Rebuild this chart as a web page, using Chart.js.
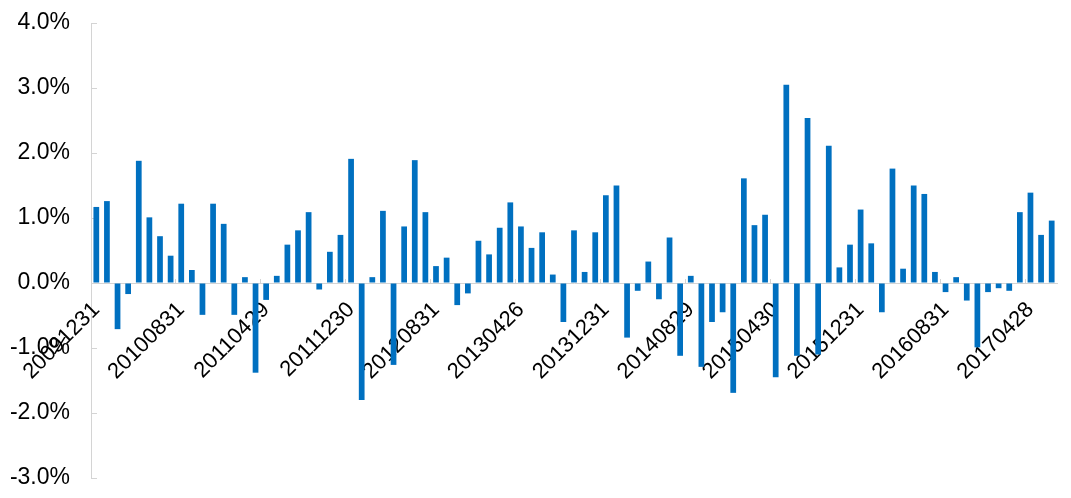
<!DOCTYPE html>
<html>
<head>
<meta charset="utf-8">
<title>Monthly excess return</title>
<script src="https://cdn.jsdelivr.net/npm/chart.js@4/dist/chart.umd.min.js"></script>
<style>
  html, body { margin: 0; padding: 0; background: #fff; }
  #wrap { width: 1071px; height: 498px; }
</style>
</head>
<body>
<div id="wrap"><canvas id="chart" width="1071" height="498"></canvas></div>
<script>
// month-end dates, 2009-12 .. 2017-06
const dates = [
  "20091231",
  "20100129", "20100226", "20100331", "20100430", "20100531", "20100630", "20100730", "20100831", "20100930", "20101029", "20101130", "20101231",
  "20110131", "20110228", "20110331", "20110429", "20110531", "20110630", "20110729", "20110831", "20110930", "20111031", "20111130", "20111230",
  "20120131", "20120229", "20120330", "20120427", "20120531", "20120629", "20120731", "20120831", "20120928", "20121031", "20121130", "20121231",
  "20130131", "20130228", "20130329", "20130426", "20130531", "20130628", "20130731", "20130830", "20130930", "20131031", "20131129", "20131231",
  "20140130", "20140228", "20140331", "20140430", "20140530", "20140630", "20140731", "20140829", "20140930", "20141031", "20141128", "20141231",
  "20150130", "20150227", "20150331", "20150430", "20150529", "20150630", "20150731", "20150831", "20150930", "20151030", "20151130", "20151231",
  "20160129", "20160229", "20160331", "20160429", "20160531", "20160630", "20160729", "20160831", "20160930", "20161031", "20161130", "20161230",
  "20170126", "20170228", "20170331", "20170428", "20170531", "20170630"
];

// monthly return, in percent
const returns = [
  1.17,
  1.26, -0.71, -0.17, 1.88, 1.01, 0.72, 0.42, 1.22, 0.20, -0.49, 1.22, 0.91,
  -0.49, 0.09, -1.38, -0.26, 0.11, 0.59, 0.81, 1.09, -0.10, 0.48, 0.74, 1.91,
  -1.80, 0.09, 1.11, -1.26, 0.87, 1.89, 1.09, 0.26, 0.39, -0.34, -0.16, 0.65,
  0.44, 0.85, 1.24, 0.87, 0.54, 0.78, 0.13, -0.60, 0.81, 0.17, 0.78, 1.35,
  1.50, -0.84, -0.12, 0.33, -0.25, 0.70, -1.12, 0.11, -1.29, -0.60, -0.45, -1.69,
  1.61, 0.89, 1.05, -1.45, 3.05, -1.12, 2.54, -1.10, 2.11, 0.24, 0.59, 1.13,
  0.61, -0.45, 1.76, 0.22, 1.50, 1.37, 0.17, -0.14, 0.09, -0.27, -0.99, -0.14,
  -0.08, -0.12, 1.09, 1.39, 0.74, 0.96
];

const yMin = -3;
const yMax = 4;
const yStep = 1;
const labelEvery = 8;

const axisGrey = "#d4d4d4";
const family = "'Liberation Sans', Arial, sans-serif";

// keep the plot area fixed, labels may spill into the margins
function noPadding(scale) {
  scale.paddingTop = 0;
  scale.paddingBottom = 0;
  scale.paddingLeft = 0;
  scale.paddingRight = 0;
}

new Chart(document.getElementById("chart"), {
  type: "bar",
  data: {
    labels: dates,
    datasets: [{
      data: returns,
      backgroundColor: "#0070c0",
      barPercentage: 0.54,
      categoryPercentage: 1.0
    }]
  },
  options: {
    responsive: false,
    animation: false,
    devicePixelRatio: 1,
    layout: { padding: { top: 23, right: 14, bottom: 20, left: 0 } },
    plugins: {
      legend: { display: false },
      tooltip: { enabled: false }
    },
    scales: {
      y: {
        min: yMin,
        max: yMax,
        afterFit: scale => { noPadding(scale); scale.width = 91; },
        ticks: {
          stepSize: yStep,
          color: "#000",
          font: { family: family, size: 23 },
          padding: 27,
          callback: v => v.toFixed(1) + "%"
        },
        grid: { drawOnChartArea: false, color: axisGrey, tickLength: -6 },
        border: { color: axisGrey }
      },
      x: {
        position: { y: 0 },
        offset: true,
        afterFit: noPadding,
        ticks: {
          autoSkip: false,
          maxRotation: 45,
          minRotation: 45,
          color: "#000",
          font: { family: family, size: 22 },
          padding: 19,
          callback: (v, i) => i % labelEvery === 0 ? dates[i] : ""
        },
        grid: {
          offset: true,
          drawOnChartArea: false,
          tickLength: -5,
          color: ctx => ctx.index % labelEvery === 0 ? axisGrey : "rgba(0,0,0,0)"
        },
        border: { color: axisGrey }
      }
    }
  }
});
</script>
</body>
</html>
